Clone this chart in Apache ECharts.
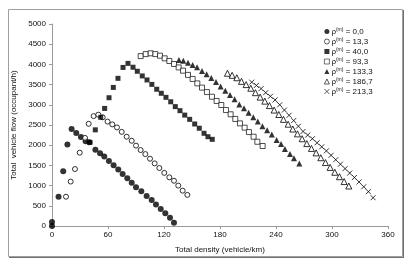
<!DOCTYPE html>
<html><head><meta charset="utf-8">
<script src="https://cdn.jsdelivr.net/npm/echarts@6/dist/echarts.min.js"></script>
<style>html,body{margin:0;padding:0;background:#fff}#c{width:411px;height:265px}</style>
</head><body><div id="c"></div>
<script>
const xTicks = [0, 60, 120, 180, 240, 300, 360];
const yTicks = [0, 500, 1000, 1500, 2000, 2500, 3000, 3500, 4000, 4500, 5000];
const seriesNames = ["0,0", "13,3", "40,0", "93,3", "133,3", "186,7", "213,3"];

const density0 = [0, 0, 7, 12, 16.5, 21, 26, 31, 36, 40, 46.5, 51.5, 56, 61, 66, 71, 75.7, 80.7, 85.4, 90, 95.7, 101.4, 106.8, 111.4, 116.5, 121.4, 126.4, 130.7];
const flow0 = [0, 100, 725, 1355, 2020, 2400, 2300, 2200, 2095, 2070, 1890, 1800, 1720, 1610, 1505, 1400, 1290, 1180, 1070, 960, 860, 745, 645, 530, 420, 315, 205, 80];

const density1 = [15, 20, 24.6, 29.7, 35.4, 39.3, 44.6, 49.6, 54.3, 59.5, 64.6, 69.6, 74.7, 80, 85.4, 90, 95, 100, 105, 110, 115, 120.3, 125.7, 130.7, 135.3, 140, 145];
const flow1 = [725, 1100, 1410, 1815, 2180, 2530, 2720, 2755, 2690, 2585, 2515, 2440, 2330, 2210, 2110, 1990, 1880, 1780, 1665, 1550, 1435, 1315, 1205, 1120, 1000, 875, 770];

const density2 = [40.7, 46.4, 52.2, 56.4, 61.1, 65.7, 70.7, 76.1, 81.4, 86.8, 91.4, 96.7, 101.8, 107, 112.2, 117.1, 122.1, 127.2, 132.1, 137.1, 142.2, 147.5, 152.9, 157.8, 162.9, 167.1, 171.7];
const flow2 = [2070, 2380, 2690, 2910, 3175, 3430, 3655, 3925, 4025, 3930, 3830, 3715, 3615, 3505, 3385, 3285, 3185, 3075, 2955, 2855, 2745, 2640, 2525, 2420, 2295, 2210, 2145];

const density3 = [95, 100.4, 105.7, 110.7, 115.7, 120.7, 125.7, 130.7, 135.7, 140.4, 145.7, 150.7, 155.7, 160.7, 166, 171.4, 176.4, 181.4, 186.4, 191.4, 196.4, 201.4, 206.4, 211, 216, 220, 225.7];
const flow3 = [4205, 4255, 4275, 4255, 4215, 4150, 4085, 4010, 3925, 3845, 3740, 3640, 3530, 3425, 3315, 3200, 3095, 2995, 2870, 2765, 2650, 2540, 2435, 2325, 2210, 2085, 1980];

const density4 = [136, 140.7, 145.7, 150.7, 155.4, 160.7, 165.7, 170.7, 175.7, 180.7, 185.7, 190.7, 195.7, 200.7, 205.7, 210.7, 215.7, 220.5, 225.5, 230.5, 235.5, 240.7, 245.4, 249.6, 255, 259.3, 265];
const flow4 = [4110, 4090, 4040, 3985, 3930, 3835, 3755, 3665, 3565, 3450, 3350, 3240, 3135, 3010, 2915, 2805, 2690, 2585, 2470, 2370, 2265, 2130, 2030, 1905, 1780, 1675, 1550];

const density5 = [188, 193, 198, 203, 208, 213, 218, 223, 228, 233, 238, 243, 248, 253, 258, 263, 268, 273, 278, 283, 288, 293, 298, 303, 308, 313, 318];
const flow5 = [3780, 3730, 3670, 3580, 3500, 3410, 3300, 3190, 3090, 2980, 2870, 2760, 2640, 2520, 2400, 2280, 2160, 2040, 1920, 1810, 1690, 1570, 1450, 1330, 1220, 1100, 990];

const density6 = [214, 219, 224, 229, 234, 239, 244, 249, 254, 259, 264, 269, 274, 279, 284, 289, 294, 299, 304, 309, 314, 319, 324, 329, 334, 339, 344];
const flow6 = [3560, 3480, 3400, 3300, 3210, 3120, 3000, 2870, 2740, 2610, 2470, 2340, 2250, 2160, 2060, 1960, 1860, 1750, 1640, 1530, 1420, 1310, 1200, 1090, 970, 850, 700];

const densities = [density0, density1, density2, density3, density4, density5, density6];
const flows = [flow0, flow1, flow2, flow3, flow4, flow5, flow6];

const crossPath = 'path://M0,0L10,10M10,0L0,10';
const styles = [
  {symbol: 'circle', size: 6, itemStyle: {color: '#000'}},
  {symbol: 'circle', size: 5, itemStyle: {color: '#fff', borderColor: '#000', borderWidth: 1}},
  {symbol: 'rect', size: 5, itemStyle: {color: '#000'}},
  {symbol: 'rect', size: 5, itemStyle: {color: '#fff', borderColor: '#222', borderWidth: 1}},
  {symbol: 'triangle', size: 6, itemStyle: {color: '#000'}},
  {symbol: 'triangle', size: 6, itemStyle: {color: '#fff', borderColor: '#000', borderWidth: 1}},
  {symbol: crossPath, size: 5, itemStyle: {color: 'transparent', borderColor: '#000', borderWidth: 1}}
];

const font = 'Liberation Sans, Arial, sans-serif';
const chart = echarts.init(document.getElementById('c'), null, {renderer: 'canvas'});

const series = seriesNames.map((n, i) => ({
  name: n,
  type: 'scatter',
  symbol: styles[i].symbol,
  symbolSize: styles[i].size,
  itemStyle: styles[i].itemStyle,
  data: densities[i].map((x, k) => [x, flows[i][k]]),
  animation: false
}));

chart.setOption({
  animation: false,
  graphic: [
    {type: 'rect', shape: {x: 8.5, y: 9.5, width: 394, height: 247}, style: {fill: 'none', stroke: '#a0a0a0', lineWidth: 1}, z: -1},
    {type: 'line', shape: {x1: 403.5, y1: 10, x2: 403.5, y2: 258}, style: {stroke: '#707070', lineWidth: 1}, z: -1},
    {type: 'line', shape: {x1: 9, y1: 257.5, x2: 404, y2: 257.5}, style: {stroke: '#707070', lineWidth: 1}, z: -1}
  ],
  grid: {left: 52, right: 23, top: 24, bottom: 39, containLabel: false},
  legend: {
    orient: 'vertical',
    left: 324,
    top: 27,
    padding: 0,
    itemWidth: 5,
    itemHeight: 5,
    itemGap: 1,
    itemStyle: {borderWidth: 0.8},
    data: seriesNames,
    formatter: n => '{r|ρ}{sup|(m)}{r| = ' + n + '}',
    textStyle: {
      fontFamily: font, fontSize: 8, color: '#111', lineHeight: 9, padding: [0, 0, 0, -3],
      rich: {
        r: {fontFamily: font, fontSize: 8, color: '#111'},
        sup: {fontFamily: font, fontSize: 5, color: '#111', verticalAlign: 'top', padding: [0, 0, 3, 0]}
      }
    }
  },
  xAxis: {
    type: 'value', min: 0, max: 360, interval: 60,
    name: 'Total density (vehicle/km)', nameLocation: 'middle', nameGap: 20,
    nameTextStyle: {fontFamily: font, fontSize: 8, color: '#111'},
    axisLine: {show: true, lineStyle: {color: '#9a9a9a', width: 1}},
    axisTick: {show: true, length: 3, inside: false, lineStyle: {color: '#9a9a9a'}},
    axisLabel: {fontFamily: font, fontSize: 8, color: '#111', margin: 5, formatter: v => xTicks.includes(v) ? String(v) : ''},
    splitLine: {show: false}
  },
  yAxis: {
    type: 'value', min: 0, max: 5000, interval: 500,
    name: 'Total  vehicle flow (occupant/h)', nameLocation: 'middle', nameGap: 28,
    nameTextStyle: {fontFamily: font, fontSize: 8, color: '#111'},
    axisLine: {show: true, lineStyle: {color: '#9a9a9a', width: 1}},
    axisTick: {show: true, length: 3, inside: false, lineStyle: {color: '#9a9a9a'}},
    axisLabel: {fontFamily: font, fontSize: 8, color: '#111', margin: 6, formatter: v => yTicks.includes(v) ? String(v) : ''},
    splitLine: {show: false}
  },
  series: series
});
</script></body></html>
